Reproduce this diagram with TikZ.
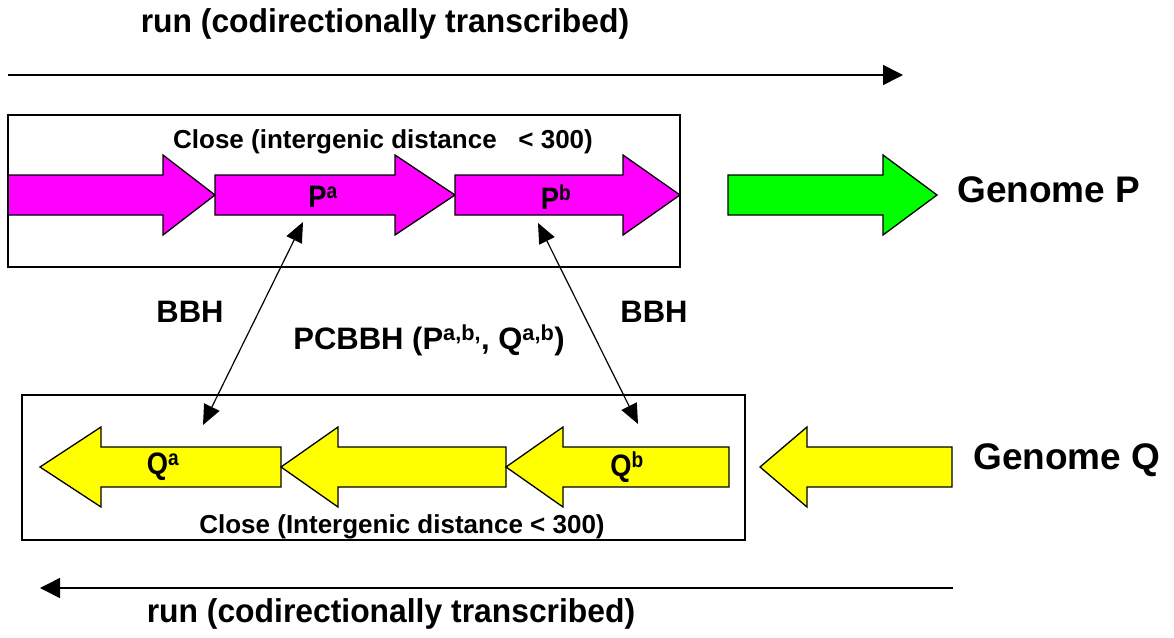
\documentclass[tikz,border=0pt]{standalone}
\usepackage{fontspec}
\usepackage{graphicx}
\setmainfont{Liberation Sans}
\usetikzlibrary{arrows.meta}

\definecolor{genemagenta}{RGB}{255,0,255}
\definecolor{genegreen}{RGB}{0,255,0}
\definecolor{geneyellow}{RGB}{255,255,0}

% gene drawn as a block arrow pointing right: fill, tail x, head base x, tip x, centre y
\newcommand{\GeneRight}[5]{%
  \filldraw[gene, fill=#1] (#2,#5-20) -- (#3,#5-20) -- (#3,#5-40) -- (#4,#5)
    -- (#3,#5+40) -- (#3,#5+20) -- (#2,#5+20) -- cycle;}
% gene drawn as a block arrow pointing left: fill, tail x, head base x, tip x, centre y
\newcommand{\GeneLeft}[5]{%
  \filldraw[gene, fill=#1] (#2,#5-20) -- (#3,#5-20) -- (#3,#5-40) -- (#4,#5)
    -- (#3,#5+40) -- (#3,#5+20) -- (#2,#5+20) -- cycle;}
% narrow bold gene name
\newcommand{\GeneName}[1]{\scalebox{0.88}[1]{#1}}
% slightly narrowed caption for the transcription runs
\newcommand{\RunText}[1]{\scalebox{0.965}[1]{#1}}

\begin{document}
\begin{tikzpicture}[x=1pt, y=-1pt,
  gene/.style={draw=black, line width=1.3pt, line join=miter},
  clusterbox/.style={draw=black, line width=1.4pt},
  runline/.style={draw=black, line width=1.6pt, -{Triangle[length=20pt,width=20pt]}},
  bbhline/.style={draw=black, line width=1.2pt, {Triangle[length=20pt,width=17pt]}-{Triangle[length=20pt,width=17pt]}},
  lbl/.style={inner sep=0pt, font=\bfseries\fontsize{#1}{#1}\selectfont},
  lbl/.default=26]

\useasboundingbox (0,0) rectangle (1174,637);

% direction of transcription, genome P
\node[lbl=33] (runP) at (385,24) {\RunText{run (codirectionally transcribed)}};
\coordinate (runPstart) at (8,75);
\coordinate (runPend) at (903,75);
\draw[runline] (runPstart) -- (runPend);

% cluster of genes on genome P
\GeneRight{genemagenta}{8}{163}{215}{195}
\GeneRight{genemagenta}{215}{395}{455}{195}
\GeneRight{genemagenta}{455}{623}{680}{195}
\node[clusterbox, minimum width=672pt, minimum height=152pt, inner sep=0pt] (boxP) at (344,191) {};
\node[lbl=26] (closeP) at (383,142) {Close (intergenic distance\ \ \ {<} 300)};
\node[lbl=31] (Pa) at (323,197) {\GeneName{P\textsuperscript{a}}};
\node[lbl=31] (Pb) at (556,197) {\GeneName{P\textsuperscript{b}}};

% genome P legend
\GeneRight{genegreen}{728}{883}{937}{195}
\node[lbl=37, anchor=west] (genP) at (957,190) {Genome P};

% cluster of genes on genome Q
\GeneLeft{geneyellow}{281}{101}{40}{467}
\GeneLeft{geneyellow}{506}{338}{281}{467}
\GeneLeft{geneyellow}{729}{563}{506}{467}
\node[clusterbox, minimum width=723pt, minimum height=145pt, inner sep=0pt] (boxQ) at (383.5,467.5) {};
\node[lbl=26] (closeQ) at (402,527) {Close (Intergenic distance {<} 300)};
\node[lbl=31] (Qa) at (163,467) {\GeneName{Q\textsuperscript{a}}};
\node[lbl=31] (Qb) at (627,467) {\GeneName{Q\textsuperscript{b}}};

% genome Q legend
\GeneLeft{geneyellow}{952}{807}{760}{467}
\node[lbl=37, anchor=west] (genQ) at (973,460) {Genome Q};

% bidirectional best hits
\coordinate (aTop) at (303,222);
\coordinate (aBot) at (203,425);
\coordinate (bTop) at (538,223);
\coordinate (bBot) at (638,424);
\draw[bbhline] (aTop) -- (aBot);
\draw[bbhline] (bTop) -- (bBot);
\node[lbl=31] (bbhA) at (190,312) {BBH};
\node[lbl=31] (bbhB) at (654,312) {BBH};
\node[lbl=31] (pcbbh) at (429,340) {PCBBH (P\textsuperscript{a,b,}, Q\textsuperscript{a,b})};

% direction of transcription, genome Q
\coordinate (runQstart) at (953,588);
\coordinate (runQend) at (40,588);
\draw[runline] (runQstart) -- (runQend);
\node[lbl=33] (runQ) at (391,614) {\RunText{run (codirectionally transcribed)}};
\end{tikzpicture}
\end{document}
